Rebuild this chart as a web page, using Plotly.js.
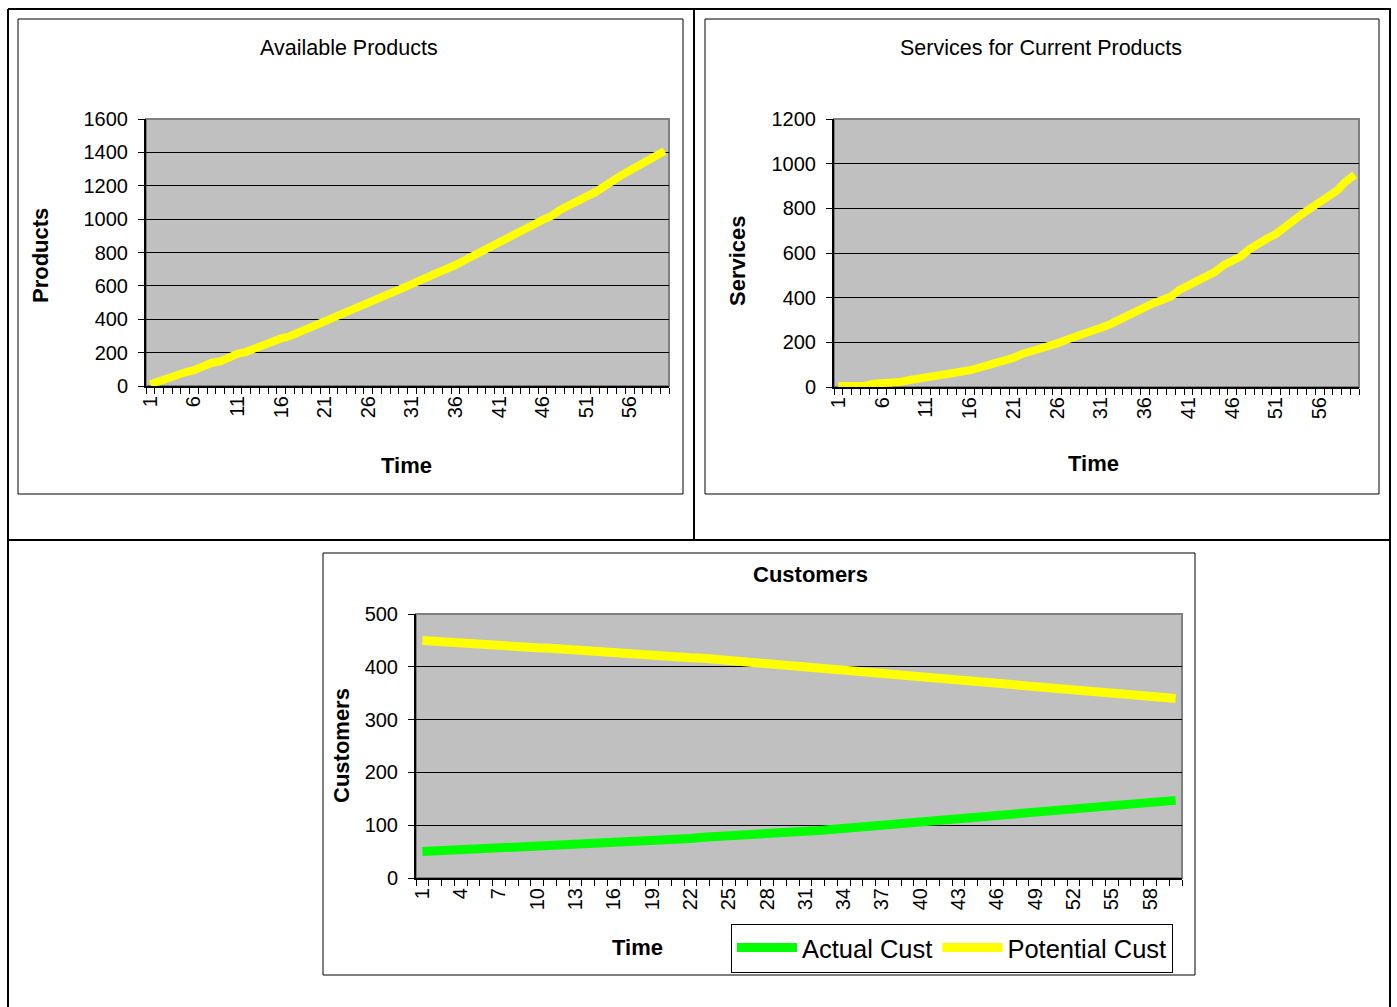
<!DOCTYPE html>
<html><head><meta charset="utf-8">
<script src="https://cdn.plot.ly/plotly-3.0.1.min.js"></script>
<style>html,body{margin:0;padding:0;background:#fff}#chart{width:1397px;height:1007px}</style>
</head><body><div id="chart"></div>
<script>
// Time periods (categories)
const time = [1,2,3,4,5,6,7,8,9,10,11,12,13,14,15,16,17,18,19,20,
  21,22,23,24,25,26,27,28,29,30,31,32,33,34,35,36,37,38,39,40,
  41,42,43,44,45,46,47,48,49,50,51,52,53,54,55,56,57,58,59,60];

// Available Products
const availableProducts = [10,30,45,68,82,95,120,138,148,172,193,205,228,240,262,285,298,320,345,360,
  385,410,430,445,470,500,520,532,560,585,610,635,655,680,705,725,752,778,800,825,
  862,885,910,932,968,995,1018,1055,1085,1108,1135,1160,1200,1228,1262,1290,1320,1350,1378,1408];

// Services for Current Products
const services = [5,5,5,5,15,15,15,22,30,35,45,45,50,58,68,75,85,100,112,120,
  130,148,158,168,182,195,210,222,240,255,265,280,300,315,340,355,375,390,405,435,
  455,470,500,515,545,565,585,618,645,665,685,710,745,775,800,830,855,880,920,950];

// Customers
const actualCust = [50,51,52,53,54,56,57,58,59,60,61,63,64,65,66,68,69,70,71,73,
  74,75,77,78,80,81,82,84,85,87,89,90,92,94,96,98,99,101,103,105,
  107,109,111,113,115,117,119,121,123,125,127,129,131,133,136,138,140,142,145,147];
const potentialCust = [450,448,447,445,444,442,441,439,438,436,435,433,432,430,428,427,425,424,422,420,
  419,417,416,414,412,411,409,408,406,404,402,400,398,396,394,392,390,388,386,384,
  382,380,377,375,373,371,369,367,364,362,360,358,355,353,351,349,346,344,342,340];

// Tick labels
const topTickVals = [1,6,11,16,21,26,31,36,41,46,51,56];
const bottomTickVals = [1,4,7,10,13,16,19,22,25,28,31,34,37,40,43,46,49,52,55,58];

const W = 1397, H = 1007;
const px = x => x / W;
const py = y => 1 - y / H;
const FONT = 'Arial, "Liberation Sans", sans-serif';

const traces = [
  {x: time, y: availableProducts, type: 'scatter', mode: 'lines', xaxis: 'x', yaxis: 'y',
   line: {color: '#FFFF00', width: 8}, showlegend: false, name: 'Available Products'},
  {x: time, y: services, type: 'scatter', mode: 'lines', xaxis: 'x2', yaxis: 'y2',
   line: {color: '#FFFF00', width: 8}, showlegend: false, name: 'Services'},
  {x: time, y: actualCust, type: 'scatter', mode: 'lines', xaxis: 'x3', yaxis: 'y3',
   line: {color: '#00FF00', width: 9}, name: 'Actual Cust'},
  {x: time, y: potentialCust, type: 'scatter', mode: 'lines', xaxis: 'x3', yaxis: 'y3',
   line: {color: '#FFFF00', width: 9}, name: 'Potential Cust'}
];

function xAx(domain, anchor, tickvals) {
  return {
    domain: domain, anchor: anchor, range: [0.5, 60.5],
    tickmode: 'array', tickvals: tickvals, ticktext: tickvals.map(String),
    tickangle: -90, ticks: '', showgrid: false, zeroline: false,
    showline: true, linecolor: '#000', linewidth: 2,
    tickfont: {family: FONT, size: 20, color: '#000'},
    minor: {tick0: 0.5, dtick: 1, ticks: 'outside', ticklen: 6, tickcolor: '#000', tickwidth: 1, showgrid: false},
    fixedrange: true
  };
}
function yAx(domain, anchor, max, dtick) {
  return {
    domain: domain, anchor: anchor, range: [0, max], tickmode: 'linear', tick0: 0, dtick: dtick,
    showgrid: true, gridcolor: '#000', gridwidth: 1, zeroline: false,
    showline: true, linecolor: '#000', linewidth: 2,
    ticks: 'outside', ticklen: 6, tickcolor: '#000', tickwidth: 1,
    tickfont: {family: FONT, size: 20, color: '#000'}, ticklabelstandoff: 6,
    fixedrange: true
  };
}

function hline(x0, x1, y, w, c) {
  return {type: 'line', xref: 'paper', yref: 'paper', x0: px(x0), x1: px(x1), y0: py(y), y1: py(y), line: {color: c || '#000', width: w}};
}
function vline(x, y0, y1, w, c) {
  return {type: 'line', xref: 'paper', yref: 'paper', x0: px(x), x1: px(x), y0: py(y0), y1: py(y1), line: {color: c || '#000', width: w}};
}
function rect(x0, y0, x1, y1, w, c) {
  return {type: 'rect', xref: 'paper', yref: 'paper', x0: px(x0), x1: px(x1), y0: py(y1), y1: py(y0), line: {color: c || '#000', width: w}, fillcolor: 'rgba(0,0,0,0)'};
}
function plotBorder(xr, yr) {
  return {type: 'rect', xref: xr + ' domain', yref: yr + ' domain', x0: 0, x1: 1, y0: 0, y1: 1,
    line: {color: '#808080', width: 2}, layer: 'below'};
}

const shapes = [
  // table grid
  hline(8, 1391, 9, 2), hline(8, 1391, 540, 2),
  vline(8, 9, 1007, 2), vline(1390, 9, 1007, 2), vline(694, 9, 540, 2),
  // chart boxes
  rect(18, 19, 683, 494, 1), rect(705, 19, 1379, 494, 1), rect(323, 553, 1195, 975, 1),
  plotBorder('x', 'y'), plotBorder('x2', 'y2'), plotBorder('x3', 'y3')
];

function ann(text, x, y, size, bold, angle) {
  return {text: bold ? '<b>' + text + '</b>' : text, xref: 'paper', yref: 'paper', x: px(x), y: py(y),
    xanchor: 'center', yanchor: 'middle', showarrow: false, textangle: angle || 0,
    font: {family: FONT, size: size, color: '#000'}};
}

const annotations = [
  ann('Available Products', 349, 48, 21.5, false),
  ann('Services for Current Products', 1041, 48, 21.5, false),
  ann('Customers', 810, 574, 22, true),
  ann('Products', 40, 256, 22, true, -90),
  ann('Services', 737, 260, 22, true, -90),
  ann('Customers', 341, 746, 22, true, -90),
  ann('Time', 406, 465, 22, true),
  ann('Time', 1093, 463, 22, true),
  ann('Time', 637, 947, 22, true)
];

const layout = {
  width: W, height: H, margin: {l: 0, r: 0, t: 0, b: 0},
  paper_bgcolor: '#fff', plot_bgcolor: '#C0C0C0',
  font: {family: FONT, color: '#000'},
  xaxis: xAx([px(146), px(669)], 'y', topTickVals),
  yaxis: yAx([py(386), py(119)], 'x', 1600, 200),
  xaxis2: xAx([px(834), px(1359)], 'y2', topTickVals),
  yaxis2: yAx([py(387), py(119)], 'x2', 1200, 200),
  xaxis3: xAx([px(416), px(1182)], 'y3', bottomTickVals),
  yaxis3: yAx([py(878), py(614)], 'x3', 500, 100),
  shapes: shapes, annotations: annotations,
  showlegend: true,
  legend: {orientation: 'h', x: px(731), y: py(948), xanchor: 'left', yanchor: 'middle',
    bgcolor: '#fff', bordercolor: '#000', borderwidth: 1,
    font: {family: FONT, size: 25.5, color: '#000'}, itemwidth: 60, tracegroupgap: 0}
};

Plotly.newPlot('chart', traces, layout, {displayModeBar: false, staticPlot: true});
</script></body></html>
